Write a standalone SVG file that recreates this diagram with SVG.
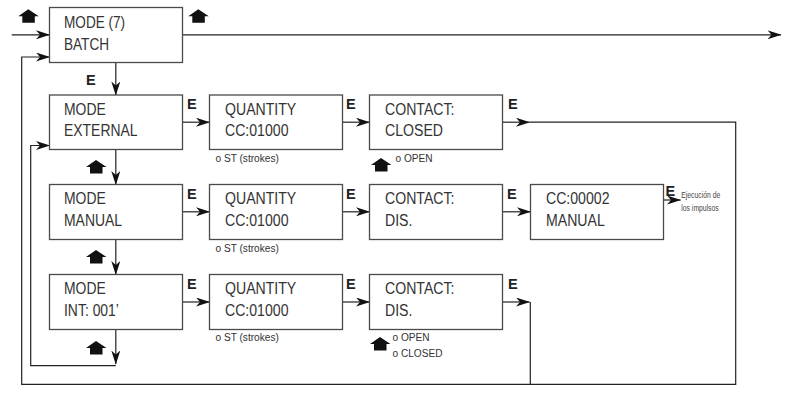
<svg xmlns="http://www.w3.org/2000/svg" xmlns:xlink="http://www.w3.org/1999/xlink" width="786" height="407" viewBox="0 0 786 407">
<style>
.box{fill:#fff;stroke:#4a4a4a;stroke-width:1.3}
.t{font-family:"Liberation Sans",Arial,sans-serif;font-size:17px;fill:#333}
.e{font-family:"Liberation Sans",Arial,sans-serif;font-size:14.5px;font-weight:bold;fill:#222}
.s{font-family:"Liberation Sans",Arial,sans-serif;font-size:11.5px;fill:#333}
.xs{font-family:"Liberation Sans",Arial,sans-serif;font-size:8.5px;fill:#444}
.c{fill:none;stroke:#222;stroke-width:1.2}
.a{marker-end:url(#ah)}
.up{fill:#111}
</style>
<defs>
<marker id="ah" viewBox="0 0 14 9" refX="13.5" refY="4.5" markerWidth="14" markerHeight="9" markerUnits="userSpaceOnUse" orient="auto">
<path d="M0,0 L14,4.5 L0,9 L4,4.5 Z" fill="#111"/>
</marker>
<polygon id="upa" points="10,0 20.5,7 16.5,7 16.5,13.5 4,13.5 4,7 0,7"/>
</defs>

<g id="connectors">
<path class="c a" d="M11.7,34.8 H49.5"/>
<path class="c a" d="M182.5,34.8 H781"/>
<path class="c a" d="M115.8,62.5 V95"/>
<path class="c a" d="M115.8,149.5 V184.5"/>
<path class="c a" d="M115.8,239.5 V274.5"/>
<path class="c a" d="M115.8,329.5 V364"/>
<path class="c a" d="M115.8,365.7 H30.7 V145.5 H49.5"/>
<path class="c a" d="M182.5,122.2 H209.5"/>
<path class="c a" d="M342.5,122.2 H369.5"/>
<path class="c a" d="M502.5,122.2 H529.5"/>
<path class="c a" d="M529.5,122.2 H735.7 V384.3 H21.7 V57 H49.5"/>
<path class="c a" d="M182.5,211.8 H209.5"/>
<path class="c a" d="M342.5,211.8 H369.5"/>
<path class="c a" d="M502.5,211.8 H530.5"/>
<path class="c a" d="M663.5,200 H680.5"/>
<path class="c a" d="M182.5,302 H209.5"/>
<path class="c a" d="M342.5,302 H369.5"/>
<path class="c a" d="M502.5,302 H529.5"/>
<path class="c" d="M530.3,302 V384.3"/>
</g>

<g id="up-arrows" class="up">
<use xlink:href="#upa" x="18.3" y="9.3"/>
<use xlink:href="#upa" x="188.3" y="9.3"/>
<use xlink:href="#upa" x="86" y="160"/>
<use xlink:href="#upa" x="86" y="250"/>
<use xlink:href="#upa" x="86" y="341"/>
<use xlink:href="#upa" x="371" y="158"/>
<use xlink:href="#upa" x="370" y="337"/>
</g>

<g id="batch">
<rect class="box" x="49.5" y="7.5" width="133" height="55"/>
<text class="t" transform="translate(64,27.5) scale(0.8,1)">MODE (7)</text>
<text class="t" transform="translate(64,49.5) scale(0.8,1)">BATCH</text>
</g>

<g id="external">
<rect class="box" x="49.5" y="95" width="133" height="54.5"/>
<text class="t" transform="translate(64,114.5) scale(0.82,1)">MODE</text>
<text class="t" transform="translate(64,136) scale(0.82,1)">EXTERNAL</text>
</g>
<g id="qty1">
<rect class="box" x="209.5" y="95" width="133" height="54.5"/>
<text class="t" transform="translate(225,114.5) scale(0.83,1)">QUANTITY</text>
<text class="t" transform="translate(225,136) scale(0.83,1)">CC:01000</text>
</g>
<g id="contact1">
<rect class="box" x="369.5" y="95" width="133" height="54.5"/>
<text class="t" transform="translate(385,114.5) scale(0.83,1)">CONTACT:</text>
<text class="t" transform="translate(385,136) scale(0.83,1)">CLOSED</text>
</g>

<g id="manual">
<rect class="box" x="49.5" y="184.5" width="133" height="55"/>
<text class="t" transform="translate(64,204) scale(0.82,1)">MODE</text>
<text class="t" transform="translate(64,226) scale(0.82,1)">MANUAL</text>
</g>
<g id="qty2">
<rect class="box" x="209.5" y="184.5" width="133" height="55"/>
<text class="t" transform="translate(225,204) scale(0.83,1)">QUANTITY</text>
<text class="t" transform="translate(225,226) scale(0.83,1)">CC:01000</text>
</g>
<g id="contact2">
<rect class="box" x="369.5" y="184.5" width="133" height="55"/>
<text class="t" transform="translate(385,204) scale(0.83,1)">CONTACT:</text>
<text class="t" transform="translate(385,226) scale(0.83,1)">DIS.</text>
</g>
<g id="cc2">
<rect class="box" x="530.5" y="184.5" width="133" height="55"/>
<text class="t" transform="translate(546,204) scale(0.83,1)">CC:00002</text>
<text class="t" transform="translate(546,226) scale(0.83,1)">MANUAL</text>
</g>

<g id="int">
<rect class="box" x="49.5" y="274.5" width="133" height="55"/>
<text class="t" transform="translate(64,294) scale(0.82,1)">MODE</text>
<text class="t" transform="translate(64,316) scale(0.82,1)">INT: 001’</text>
</g>
<g id="qty3">
<rect class="box" x="209.5" y="274.5" width="133" height="55"/>
<text class="t" transform="translate(225,294) scale(0.83,1)">QUANTITY</text>
<text class="t" transform="translate(225,316) scale(0.83,1)">CC:01000</text>
</g>
<g id="contact3">
<rect class="box" x="369.5" y="274.5" width="133" height="55"/>
<text class="t" transform="translate(385,294) scale(0.83,1)">CONTACT:</text>
<text class="t" transform="translate(385,316) scale(0.83,1)">DIS.</text>
</g>

<g id="labels">
<text class="e" x="86" y="85">E</text>
<text class="e" x="187" y="108.5">E</text>
<text class="e" x="346" y="108.5">E</text>
<text class="e" x="508" y="108.5">E</text>
<text class="e" x="187" y="198.5">E</text>
<text class="e" x="346" y="198.5">E</text>
<text class="e" x="507" y="198.5">E</text>
<text class="e" x="665.5" y="195.5">E</text>
<text class="e" x="187" y="288.5">E</text>
<text class="e" x="346" y="288.5">E</text>
<text class="e" x="508" y="288.5">E</text>
<text class="s" transform="translate(215.5,161.7) scale(0.88,1)">o ST (strokes)</text>
<text class="s" transform="translate(395.5,161.7) scale(0.88,1)">o OPEN</text>
<text class="s" transform="translate(215.5,251.8) scale(0.88,1)">o ST (strokes)</text>
<text class="s" transform="translate(215.5,340.8) scale(0.88,1)">o ST (strokes)</text>
<text class="s" transform="translate(392.5,340.8) scale(0.88,1)">o OPEN</text>
<text class="s" transform="translate(392.5,357.3) scale(0.88,1)">o CLOSED</text>
<text class="xs" transform="translate(681.3,197.8) scale(0.8,1)">Ejecución de</text>
<text class="xs" transform="translate(681.3,210.5) scale(0.8,1)">los impulsos</text>
</g>
</svg>
